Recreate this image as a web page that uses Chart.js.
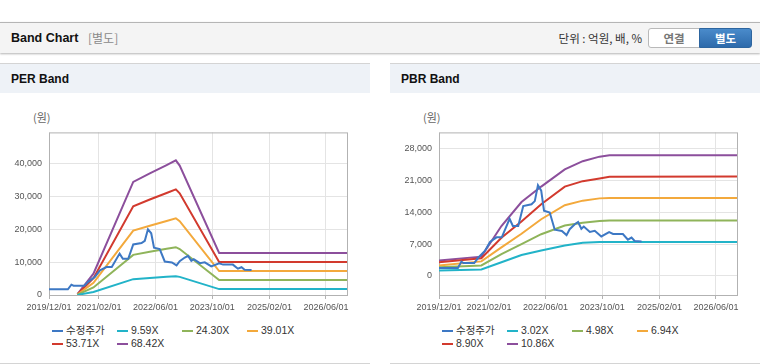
<!DOCTYPE html>
<html><head><meta charset="utf-8">
<script src="https://cdn.jsdelivr.net/npm/chart.js@4.4.1/dist/chart.umd.min.js"></script>
<style>
html,body{margin:0;padding:0;background:#fff;}
body{width:760px;height:364px;position:relative;overflow:hidden;font-family:"Liberation Sans",Arial,"Noto Sans CJK KR",sans-serif;color:#333;}
.abs{position:absolute;white-space:nowrap;}
#topbar{left:0;top:22px;width:760px;height:30px;background:#f4f4f4;border-top:1px solid #b5b5b5;box-shadow:0 1px 2px rgba(0,0,0,0.3);}
#title{left:11px;top:30px;height:16px;line-height:16px;font-size:12.5px;font-weight:bold;color:#111;font-family:"Liberation Sans",Arial,sans-serif;}
#sub{left:88px;top:30px;height:16px;line-height:16px;font-size:12px;color:#8a8a8a;font-family:"Noto Sans CJK KR",sans-serif;}
#unit{right:118px;top:30px;height:16px;line-height:16px;font-size:11.5px;color:#333;font-family:"Noto Sans CJK KR",sans-serif;}
.btn{top:28px;height:18px;line-height:18px;font-size:11.5px;font-weight:bold;text-align:center;font-family:"Noto Sans CJK KR",sans-serif;}
#b1{left:648px;width:50px;background:#fff;border:1px solid #b9b9b9;border-radius:3px 0 0 3px;color:#777;}
#b2{left:699px;width:51px;background:linear-gradient(#4a8bcb,#2d6aab);border:1px solid #2d659f;border-radius:0 3px 3px 0;color:#fff;}
.panel{top:63px;width:370px;height:299px;border-top:1px solid #d4d4d4;border-bottom:1px solid #d4d4d4;background:#fff;}
.phead{left:0;top:0;width:370px;height:29px;background:#eef2f7;}
.ptitle{left:11px;top:7px;height:16px;line-height:16px;font-size:12px;font-weight:bold;color:#111;}
.unitw{top:110px;font-size:11px;color:#666;font-family:"Noto Sans CJK KR",sans-serif;line-height:14px;}
.leg{font-size:10.5px;color:#333;height:13px;line-height:13px;}
.mk{position:absolute;width:11px;height:2px;top:6px;left:0;}
.lt{position:absolute;left:14px;top:0;}
canvas{position:absolute;}
</style></head>
<body>
<div id="topbar" class="abs"></div>
<div id="title" class="abs">Band Chart</div>
<div id="sub" class="abs">[별도]</div>
<div id="unit" class="abs">단위 : 억원, 배, %</div>
<div id="b1" class="abs btn">연결</div>
<div id="b2" class="abs btn">별도</div>

<div id="p1" class="abs panel" style="left:0;"><div class="abs phead"></div><div class="abs ptitle">PER Band</div></div>
<div id="p2" class="abs panel" style="left:390px;"><div class="abs phead"></div><div class="abs ptitle">PBR Band</div></div>
<div class="abs unitw" style="left:33px;">(원)</div>
<div class="abs unitw" style="left:423px;">(원)</div>
<canvas id="perChart" width="370" height="200" style="left:0;top:120px;"></canvas>
<canvas id="pbrChart" width="370" height="200" style="left:390px;top:120px;"></canvas>
<div id="leg1"></div><div id="leg2"></div>

<script>
// ---- tick labels ----
const xTickLabels = ['2019/12/01','2021/02/01','2022/06/01','2023/10/01','2025/02/01','2026/06/01'];
const xStart = '2019/12/01';
const xEnd = '2026/11/28';
const perYTicks = [0, 10000, 20000, 30000, 40000];
const pbrYTicks = [0, 7000, 14000, 21000, 28000];

// ---- adjusted share price (수정주가) ----
const priceDates = ['2019/12/01','2020/05/11','2020/06/10','2020/06/28','2020/09/28','2020/11/01','2020/12/28','2021/02/10','2021/04/07','2021/05/22','2021/07/28','2021/08/25','2021/10/10','2021/11/22','2022/02/01','2022/03/01','2022/03/28','2022/04/25','2022/05/19','2022/07/07','2022/08/19','2022/10/19','2022/11/28','2022/12/25','2023/02/07','2023/03/07','2023/04/04','2023/04/25','2023/06/16','2023/07/28','2023/09/22','2023/11/28','2024/01/01','2024/03/25','2024/05/07','2024/06/07','2024/07/04','2024/09/01'];
const priceValues = [1750,1750,3150,2850,2850,4000,5500,7500,8500,8500,12600,11000,11000,15400,15800,16500,20000,18800,14400,14000,10200,9900,9000,10300,11400,11900,10400,10900,9700,9950,8700,9650,9250,9250,8000,8450,7700,7600];

// ---- PER bands ----
const perLabels = ['수정주가','9.59X','24.30X','39.01X','53.71X','68.42X'];
const perBandDates = ['2020/08/01','2020/12/16','2021/11/22','2022/04/13','2022/09/04','2022/11/22','2022/12/25','2023/11/28','2026/11/28'];
const per959  = [40, 900, 4820, 5190, 5540, 5740, 5520, 1800, 1800];
const per2430 = [100, 2310, 12220, 13150, 14050, 14560, 14000, 4550, 4550];
const per3901 = [160, 3710, 19620, 21100, 22550, 23370, 22470, 7300, 7300];
const per5371 = [210, 5100, 27020, 29060, 31040, 32170, 30940, 10050, 10050];
const per6842 = [270, 6500, 34420, 37020, 39550, 40980, 39410, 12800, 12800];

// ---- PBR bands ----
const pbrLabels = ['수정주가','3.02X','4.98X','6.94X','8.90X','10.86X'];
const pbrBandDates = ['2019/12/01','2020/11/28','2021/05/19','2021/11/07','2022/04/25','2022/11/13','2023/04/16','2023/09/07','2023/12/01','2026/11/28'];
const pbr302  = [1200, 1400, 3000, 4600, 5600, 6700, 7300, 7500, 7500, 7500];
const pbr498  = [1900, 2300, 4800, 7000, 9200, 11100, 11700, 12100, 12240, 12240];
const pbr694  = [2300, 3200, 6300, 9300, 12500, 15600, 16600, 17100, 17180, 17180];
const pbr890  = [3000, 3900, 8400, 12000, 15800, 19700, 20900, 21500, 21850, 21900];
const pbr1086 = [3400, 4250, 11000, 16300, 19700, 23500, 25300, 26300, 26620, 26620];

const colors = ['#3d78c4','#22b3c8','#8fb45a','#f3a93c','#d23a2e','#8c4f9c'];

const toDay = s => { const p = s.split('/').map(Number); return Date.UTC(p[0], p[1]-1, p[2]) / 86400000; };
const pts = (dates, vals) => dates.map((d,i) => ({x: toDay(d), y: vals[i]}));
const tickMap = {}; xTickLabels.forEach(l => tickMap[toDay(l)] = l);

const frame = { id:'frame', beforeDatasetsDraw(chart){ const {ctx, chartArea:a} = chart; ctx.save(); ctx.strokeStyle='#b2b2b2'; ctx.lineWidth=1; ctx.strokeRect(a.left+0.5, a.top+0.5, a.right-a.left, a.bottom-a.top); ctx.restore(); } };

function makeChart(id, labels, series, yMin, yMax, yTicks){
  const datasets = series.map((s,i) => ({
    label: labels[i], data: pts(s[0], s[1]), borderColor: colors[i], backgroundColor: colors[i],
    borderWidth: 2, pointRadius: 0, tension: 0, fill: false
  }));
  new Chart(document.getElementById(id), {
    type: 'line',
    data: { datasets },
    options: {
      responsive: false, animation: false, devicePixelRatio: 1,
      layout: { padding: { top: 8, right: 23, left: 0, bottom: 0 } },
      plugins: { legend: { display: false }, tooltip: { enabled: false } },
      scales: {
        x: { type: 'linear', min: toDay(xStart), max: toDay(xEnd),
          afterBuildTicks: sc => { sc.ticks = xTickLabels.map(l => ({value: toDay(l)})); },
          afterFit: sc => { sc.height = 25; },
          grid: { color: '#e4e4e4', tickColor: '#b2b2b2', tickLength: 4 },
          border: { display: false },
          ticks: { autoSkip: false, maxRotation: 0, padding: 3, color: '#555', font: { size: 9, family: '"Liberation Sans", Arial, sans-serif' },
            callback: v => tickMap[v] || '' } },
        y: { type: 'linear', min: yMin, max: yMax,
          afterBuildTicks: sc => { sc.ticks = yTicks.map(v => ({value: v})); },
          afterFit: sc => { sc.width = 49; },
          grid: { color: '#e4e4e4', drawTicks: false },
          border: { display: false },
          ticks: { autoSkip: false, padding: 7, color: '#555', font: { size: 9, family: '"Liberation Sans", Arial, sans-serif' },
            callback: v => Number(v).toLocaleString('en-US') } }
      }
    },
    plugins: [frame]
  });
}

makeChart('perChart', perLabels, [
  [priceDates, priceValues], [perBandDates, per959], [perBandDates, per2430],
  [perBandDates, per3901], [perBandDates, per5371], [perBandDates, per6842]
], 0, 49500, perYTicks);

makeChart('pbrChart', pbrLabels, [
  [priceDates, priceValues], [pbrBandDates, pbr302], [pbrBandDates, pbr498],
  [pbrBandDates, pbr694], [pbrBandDates, pbr890], [pbrBandDates, pbr1086]
], -4210, 31650, pbrYTicks);

function legend(id, labels, offX){
  const host = document.getElementById(id);
  labels.forEach((l,i) => {
    const col = i % 4, row = Math.floor(i / 4);
    const d = document.createElement('div');
    d.className = 'abs leg';
    d.style.left = (offX + 52 + col * 65) + 'px';
    d.style.top = (324 + row * 13) + 'px';
    d.innerHTML = '<span class="mk" style="background:' + colors[i] + '"></span><span class="lt">' + l + '</span>';
    host.appendChild(d);
  });
}
legend('leg1', perLabels, 0);
legend('leg2', pbrLabels, 390);
</script>
</body></html>
